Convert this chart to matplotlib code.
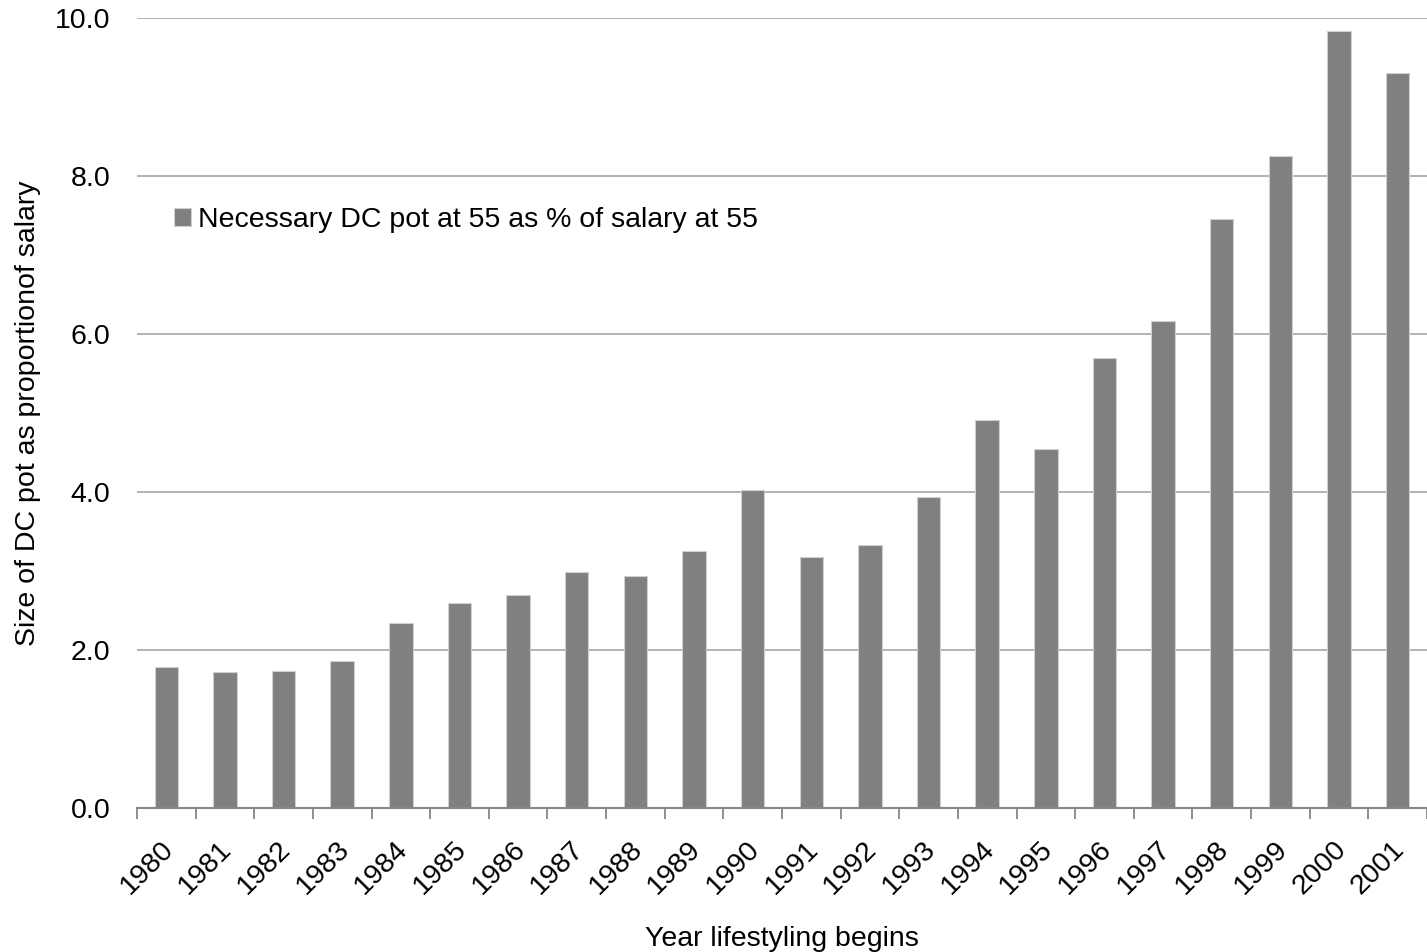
import matplotlib
matplotlib.use("Agg")
import matplotlib.pyplot as plt
import numpy as np
from matplotlib.ticker import FixedLocator, FormatStrFormatter
import matplotlib.transforms as mtransforms

plt.rcParams['font.family'] = ['Liberation Sans', 'DejaVu Sans']

years = ["1980", "1981", "1982", "1983", "1984", "1985", "1986", "1987", "1988",
         "1989", "1990", "1991", "1992", "1993", "1994", "1995", "1996", "1997",
         "1998", "1999", "2000", "2001"]
pot_ratio = [1.78, 1.72, 1.73, 1.86, 2.34, 2.59, 2.70, 2.99, 2.94, 3.25, 4.03,
             3.18, 3.33, 3.94, 4.91, 4.54, 5.70, 6.16, 7.46, 8.25, 9.84, 9.30]
series_name = "Necessary DC pot at 55 as % of salary at 55"

FS = 20.5

fig = plt.figure(figsize=(14.27, 9.52), dpi=100)
ax = fig.add_axes([0.096, 0.1513, 0.904, 0.8298])

x = np.arange(len(years))
ax.bar(x, pot_ratio, width=0.40, color="#808080", edgecolor="#d0d0d0",
       linewidth=0.8, zorder=3, label=series_name)

ax.set_xlim(-0.5, len(years) - 0.5)
ax.set_ylim(0, 10)
ax.set_yticks(np.arange(0, 10.01, 2))
ax.yaxis.set_major_formatter(FormatStrFormatter("%.1f"))
ax.grid(axis="y", color="#a6a6a6", linewidth=1.2, zorder=0)
ax.set_axisbelow(True)

for s in ["left", "right", "top"]:
    ax.spines[s].set_visible(False)
ax.spines["bottom"].set_color("#868686")
ax.spines["bottom"].set_linewidth(1.5)
ax.spines["bottom"].set_zorder(4)

ax.tick_params(axis="y", length=0, pad=19, labelsize=FS)
ax.set_xticks(x)
ax.set_xticklabels(years, rotation=45, ha="right", rotation_mode="anchor", fontsize=FS)
ax.tick_params(axis="x", which="major", length=0, pad=20)
ax.xaxis.set_minor_locator(FixedLocator(np.arange(-0.5, len(years) + 0.5, 1.0)))
ax.tick_params(axis="x", which="minor", length=8, width=1.3, color="#868686", direction="out")

offset = mtransforms.ScaledTranslation(-6 / 100, 0, fig.dpi_scale_trans)
for lbl in ax.get_xticklabels():
    lbl.set_transform(lbl.get_transform() + offset)

ax.set_xlabel("Year lifestyling begins", fontsize=FS)
ax.xaxis.set_label_coords(0.5, -0.149)
ax.set_ylabel("Size of DC pot as proportionof salary", fontsize=FS)
ax.yaxis.set_label_coords(-0.0744, 0.5)

leg = ax.legend(loc="upper left", bbox_to_anchor=(0.020, 0.775), frameon=False,
                fontsize=FS, handlelength=0.6, handleheight=0.6, handletextpad=0.25,
                borderaxespad=0)

fig.savefig("out.png", dpi=100)
